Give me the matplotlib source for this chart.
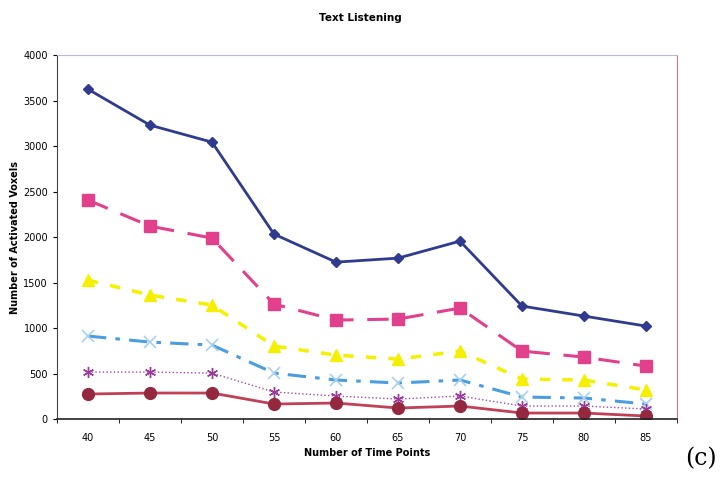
import matplotlib.pyplot as plt
from matplotlib.ticker import FixedLocator

# Data
time_points = [40, 45, 50, 55, 60, 65, 70, 75, 80, 85]
series_1 = [3626, 3231, 3044, 2033, 1725, 1769, 1956, 1242, 1132, 1022]
series_2 = [2407, 2121, 1989, 1264, 1088, 1099, 1220, 747, 681, 582]
series_3 = [1527, 1363, 1253, 802, 703, 659, 747, 440, 429, 319]
series_4 = [912, 846, 813, 505, 429, 396, 429, 242, 231, 165]
series_5 = [516, 516, 505, 297, 253, 220, 253, 143, 143, 110]
series_6 = [275, 286, 286, 165, 176, 121, 143, 66, 66, 33]
y_ticks = [0, 500, 1000, 1500, 2000, 2500, 3000, 3500, 4000]

fig = plt.figure(figsize=(7.26, 4.8), dpi=100)
ax = fig.add_axes([0.0785, 0.127, 0.854, 0.758])

ax.plot(time_points, series_1, color='#2e3b8f', lw=2, marker='D', ms=5,
        mec='#2e3b8f', mfc='#2e3b8f')
ax.plot(time_points, series_2, color='#e2408d', lw=2.2, dashes=(7, 4.5),
        marker='s', ms=8, mfc='#e2408d', mec='#e2408d')
ax.plot(time_points, series_3, color='#f5f000', lw=2.5, dashes=(3, 3.5),
        marker='^', ms=9, mfc='#f5f000', mec='#f5f000')
ax.plot(time_points, series_4, color='#4a9de0', lw=2.2, dashes=(6, 3, 1.5, 3),
        marker='x', ms=8, mew=1.2, mec='#a8d0f0')
ax.plot(time_points, series_5, color='#a24aa8', lw=1, ls=':',
        marker=(6, 2, 0), ms=8, mew=1, mec='#9a3a9a')
ax.plot(time_points, series_6, color='#c04058', lw=2,
        marker='o', ms=8.5, mfc='#93283f', mec='#93283f')

ax.set_xlim(37.5, 87.5)
ax.set_ylim(0, 4000)
ax.set_xticks(time_points)
ax.xaxis.set_minor_locator(FixedLocator([37.5 + 5 * i for i in range(11)]))
ax.tick_params(axis='x', which='major', length=0, labelsize=7, pad=10)
ax.tick_params(axis='x', which='minor', length=3, direction='out')
ax.set_yticks(y_ticks)
ax.tick_params(axis='y', labelsize=7, length=3, direction='out')

ax.spines['top'].set_color('#b8b8e0')
ax.spines['right'].set_color('#e07090')
ax.spines['left'].set_color('#444444')
ax.spines['bottom'].set_color('#222222')
ax.spines['bottom'].set_linewidth(1.2)

ax.set_xlabel('Number of Time Points', fontsize=7, fontweight='bold', labelpad=4)
ax.set_ylabel('Number of Activated Voxels', fontsize=7, fontweight='bold', labelpad=2)
fig.text(0.497, 0.962, 'Text Listening', ha='center', va='center',
         fontsize=7.5, fontweight='bold')
fig.text(0.965, 0.045, '(c)', ha='center', va='center', fontsize=17,
         family='DejaVu Serif')

fig.savefig('out.png', dpi=100)
